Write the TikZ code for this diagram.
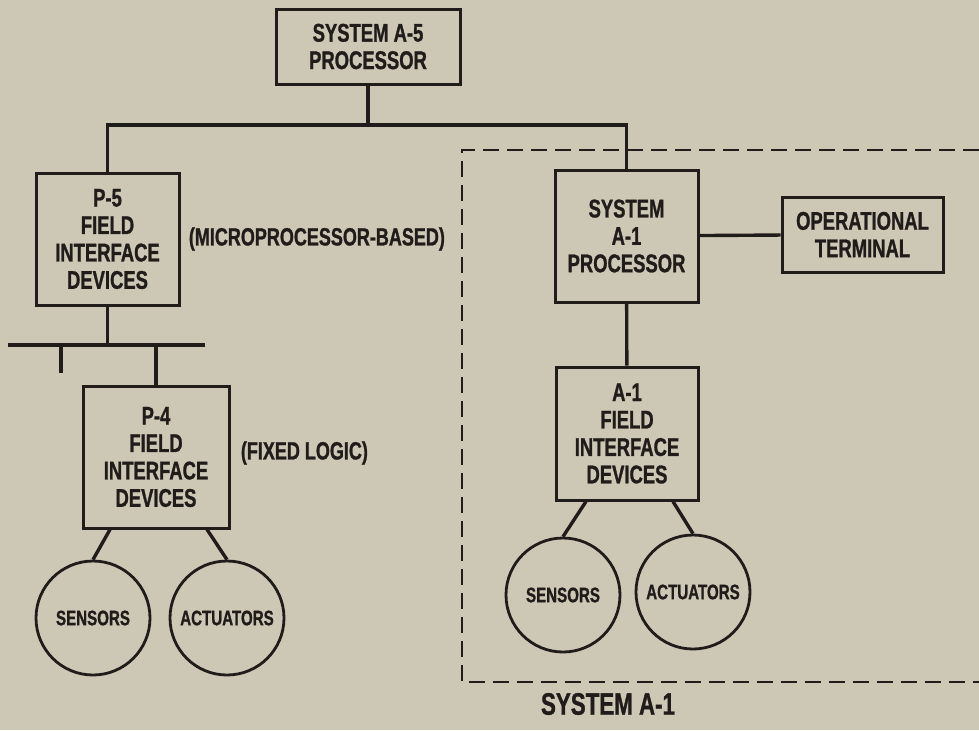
\documentclass[tikz,border=0pt]{standalone}
\usepackage{fontspec}
\setmainfont{Liberation Sans}[FakeStretch=0.72,BoldFeatures={FakeBold=1}]
\usetikzlibrary{positioning,calc}
\definecolor{paper}{RGB}{205,200,181}
\definecolor{ink}{RGB}{32,28,26}

\begin{document}
\begin{tikzpicture}[x=0.5pt,y=-0.5pt,
  box/.style={draw=ink,line width=1.5pt,align=center,inner sep=0pt,text=ink,
    font=\bfseries\fontsize{12.8}{13.7}\selectfont},
  unit/.style={circle,draw=ink,line width=1.4pt,minimum size=57pt,inner sep=0pt,text=ink,
    font=\bfseries\fontsize{10.5}{12}\selectfont},
  wire/.style={draw=ink,line width=1.7pt},
  note/.style={text=ink,inner sep=0pt,font=\bfseries\fontsize{12.5}{14}\selectfont}]
  % paper
  \fill[paper] (0,0) rectangle (979,730);
  \useasboundingbox (0,0) rectangle (979,730);

  % top processor
  \node[box,minimum width=92pt,minimum height=37.5pt] (a5) at (368,46.5) {SYSTEM A-5\\PROCESSOR};
  \coordinate (tj) at (368,125);
  \draw[wire] (a5) -- (tj);

  % P-5 / P-4 branch
  \node[box,minimum width=71.5pt,minimum height=66pt] (p5) at (107.5,239) {P-5\\FIELD\\INTERFACE\\DEVICES};
  \node[note,right=4pt of p5] (mpb) {(MICROPROCESSOR-BASED)};
  \coordinate (busL) at (8,345);
  \coordinate (busR) at (205,345);
  \coordinate (stub) at (61,373);
  \draw[wire] (busL) -- (busR);
  \draw[wire] (p5.south) -- (p5.south |- busL);
  \draw[wire] (stub |- busL) -- (stub);
  \node[box,minimum width=73pt,minimum height=71pt] (p4) at (156,457) {P-4\\FIELD\\INTERFACE\\DEVICES};
  \draw[wire] (p4.north) -- (p4.north |- busL);
  \node[note,right=5pt of p4,yshift=2pt] (fix) {(FIXED LOGIC)};
  \node[unit] (sensP) at (93,618) {SENSORS};
  \node[unit] (actP) at (227,618) {ACTUATORS};
  \draw[wire] ($(p4.south)+(-46,0)$) -- (sensP.north);
  \draw[wire] ($(p4.south)+(51,0)$) -- (actP.north);

  % system A-1
  \node[box,minimum width=71.5pt,minimum height=66pt] (a1) at (626.5,236) {SYSTEM\\A-1\\PROCESSOR};
  \node[box,minimum width=80.5pt,minimum height=37.5pt] (term) at (862.5,234.5) {OPERATIONAL\\TERMINAL};
  \draw[wire] (a1) -- (term);
  \draw[wire] (p5.north) |- (tj) -| (a1.north);
  \node[box,minimum width=71pt,minimum height=66.5pt] (a1fid) at (627,433.5) {A-1\\FIELD\\INTERFACE\\DEVICES};
  \draw[wire] (a1) -- (a1fid);
  \node[unit] (sensA) at (563,595) {SENSORS};
  \node[unit] (actA) at (693,592) {ACTUATORS};
  \draw[wire] ($(a1fid.south)+(-41,0)$) -- (sensA.north);
  \draw[wire] ($(a1fid.south)+(46,0)$) -- (actA.north);

  % boundary of A-1
  \draw[ink,line width=1.2pt,dash pattern=on 8pt off 4pt] (979,150) -- (462,150) -- (462,682) -- (979,682);
  \node[note,font=\bfseries\fontsize{15.5}{17}\selectfont] (sysA1) at (608,704) {SYSTEM A-1};
\end{tikzpicture}
\end{document}
